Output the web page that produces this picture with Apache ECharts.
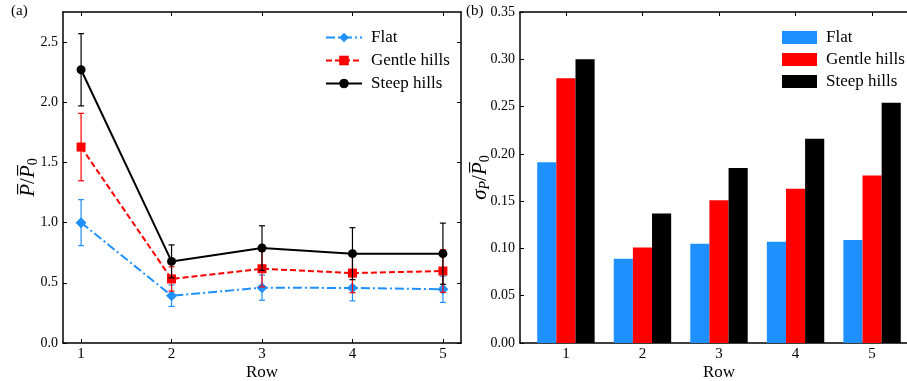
<!DOCTYPE html>
<html><head><meta charset="utf-8">
<script src="https://cdn.jsdelivr.net/npm/echarts@6/dist/echarts.min.js"></script>
<style>html,body{margin:0;padding:0;background:#fff}#c{width:907px;height:381px}</style>
</head><body><div id="c"></div>
<script>
const rows = [1, 2, 3, 4, 5];
const seriesNames = ['Flat', 'Gentle hills', 'Steep hills'];
const flatMean = [1.00, 0.393, 0.460, 0.457, 0.446];
const gentleMean = [1.628, 0.532, 0.617, 0.581, 0.598];
const steepMean = [2.27, 0.678, 0.789, 0.742, 0.742];
const flatStd = [0.191, 0.089, 0.105, 0.107, 0.109];
const gentleStd = [0.280, 0.101, 0.151, 0.163, 0.177];
const steepStd = [0.300, 0.137, 0.185, 0.216, 0.254];
const leftTicks = [0, 0.5, 1.0, 1.5, 2.0, 2.5];
const rightTicks = [0, 0.05, 0.10, 0.15, 0.20, 0.25, 0.30, 0.35];

const colors = ['#1E90FF', '#FF0000', '#000000'];
const means = [flatMean, gentleMean, steepMean];
const stds = [flatStd, gentleStd, steepStd];
const FONT = 'Liberation Serif';

const chart = echarts.init(document.getElementById('c'), null, {renderer: 'canvas'});

function frameX(gridIndex, min, max, name, show) {
  return {
    type: 'value', gridIndex, min, max, position: show ? 'bottom' : 'top',
    name: show ? name : '', nameLocation: 'middle', nameGap: 21, nameMoveOverlap: false,
    nameTextStyle: {fontFamily: FONT, fontSize: 17, color: '#000'},
    axisLine: {show: true, onZero: false, lineStyle: {color: '#000', width: 1.5}},
    axisTick: {show: true, inside: true, length: 4, customValues: rows, lineStyle: {color: '#000', width: 1}},
    axisLabel: {show: show, customValues: rows, margin: 4, fontFamily: FONT, fontSize: 15, color: '#000'},
    splitLine: {show: false}
  };
}
function frameY(gridIndex, max, ticks, dec, show, nameRich, nameGap) {
  return {
    type: 'value', gridIndex, min: 0, max, position: show ? 'left' : 'right',
    name: show ? nameRich : '', nameLocation: 'middle', nameGap: nameGap, nameRotate: 90,
    nameMoveOverlap: false,
    nameTextStyle: {fontFamily: FONT, fontSize: 20, color: '#000',
      rich: {
        i: {fontFamily: FONT, fontStyle: 'italic', fontSize: 21, color: '#000'},
        n: {fontFamily: FONT, fontSize: 21, color: '#000'},
        s: {fontFamily: FONT, fontSize: 14, color: '#000', padding: [10, 0, 0, 0]},
        si: {fontFamily: FONT, fontStyle: 'italic', fontSize: 14, color: '#000', padding: [10, 0, 0, 0]}
      }},
    axisLine: {show: true, onZero: false, lineStyle: {color: '#000', width: 1.5}},
    axisTick: {show: true, inside: true, length: 4, customValues: ticks, lineStyle: {color: '#000', width: 1}},
    axisLabel: {show: show, customValues: ticks, margin: 5, fontFamily: FONT, fontSize: 14, color: '#000',
      formatter: v => v.toFixed(dec)},
    splitLine: {show: false}
  };
}

const symbols = ['diamond', 'rect', 'circle'];
const symbolSizes = [11, 9, 9];
const lineTypes = [[9, 3, 2, 3], [6, 3], 'solid'];

const series = [];
seriesNames.forEach((nm, k) => {
  series.push({
    name: nm, type: 'line', xAxisIndex: 0, yAxisIndex: 0,
    data: rows.map((r, i) => [r, means[k][i]]),
    symbol: symbols[k], symbolSize: symbolSizes[k], showSymbol: true,
    itemStyle: {color: colors[k]},
    lineStyle: {color: colors[k], width: 2, type: lineTypes[k]},
    z: 3 + k, animation: false
  });
  series.push({
    name: nm, type: 'custom', xAxisIndex: 0, yAxisIndex: 0,
    data: rows.map((r, i) => [r, means[k][i], stds[k][i]]),
    renderItem: (params, api) => {
      const x = api.value(0), y = api.value(1), e = api.value(2);
      const top = api.coord([x, y + e]);
      const bot = api.coord([x, y - e]);
      const st = {stroke: colors[k], lineWidth: 1.2};
      return {type: 'group', children: [
        {type: 'line', shape: {x1: top[0], y1: top[1], x2: bot[0], y2: bot[1]}, style: st},
        {type: 'line', shape: {x1: top[0] - 3, y1: top[1], x2: top[0] + 3, y2: top[1]}, style: st},
        {type: 'line', shape: {x1: bot[0] - 3, y1: bot[1], x2: bot[0] + 3, y2: bot[1]}, style: st}
      ]};
    },
    z: 3 + k, animation: false, silent: true
  });
});
const groupWidth = 0.75;
seriesNames.forEach((nm, k) => {
  series.push({
    name: nm + ' ', type: 'custom', xAxisIndex: 2, yAxisIndex: 2,
    data: rows.map((r, i) => [r, stds[k][i]]),
    renderItem: (params, api) => {
      const w = groupWidth / seriesNames.length;
      const x0 = api.value(0) - groupWidth / 2 + k * w;
      const p0 = api.coord([x0, api.value(1)]);
      const p1 = api.coord([x0 + w, 0]);
      return {type: 'rect', shape: {x: p0[0], y: p0[1], width: p1[0] - p0[0], height: p1[1] - p0[1]},
        style: {fill: colors[k]}};
    },
    itemStyle: {color: colors[k]},
    animation: false
  });
});

const option = {
  animation: false,
  backgroundColor: '#fff',
  grid: [
    {left: 63, top: 12, width: 398, height: 331, outerBoundsMode: 'none', containLabel: false},
    {left: 520, top: 12, width: 398, height: 331, outerBoundsMode: 'none', containLabel: false}
  ],
  xAxis: [
    frameX(0, 0.8, 5.2, 'Row', true),
    frameX(0, 0.8, 5.2, '', false),
    frameX(1, 0.4, 5.6, 'Row', true),
    frameX(1, 0.4, 5.6, '', false)
  ],
  yAxis: [
    frameY(0, 2.75, leftTicks, 1, true, '{i|P\u0305}{n|/}{i|P\u0305}{s|0}', 23),
    frameY(0, 2.75, leftTicks, 1, false, '', 0),
    frameY(1, 0.35, rightTicks, 2, true, '{i|\u03c3}{si|P}{n|/}{i|P\u0305}{s|0}', 28),
    frameY(1, 0.35, rightTicks, 2, false, '', 0)
  ],
  legend: [
    {data: seriesNames, left: 320, top: 24, orient: 'vertical', itemGap: 6, itemWidth: 36, itemHeight: 12,
     textStyle: {fontFamily: FONT, fontSize: 17, color: '#000', padding: [0, 0, 0, 4]}},
    {data: seriesNames.map((n, k) => ({name: n + ' ', icon: 'rect', itemStyle: {color: colors[k]}})),
     left: 777, top: 24, orient: 'vertical', itemGap: 5, itemWidth: 35, itemHeight: 13,
     textStyle: {fontFamily: FONT, fontSize: 17, color: '#000', padding: [0, 0, 0, 4]}}
  ],
  graphic: [
    {type: 'text', left: 11, top: 4, style: {text: '(a)', font: '15px "Liberation Serif"', fill: '#000'}},
    {type: 'text', left: 466, top: 4, style: {text: '(b)', font: '15px "Liberation Serif"', fill: '#000'}}
  ],
  series
};
chart.setOption(option);
</script></body></html>
